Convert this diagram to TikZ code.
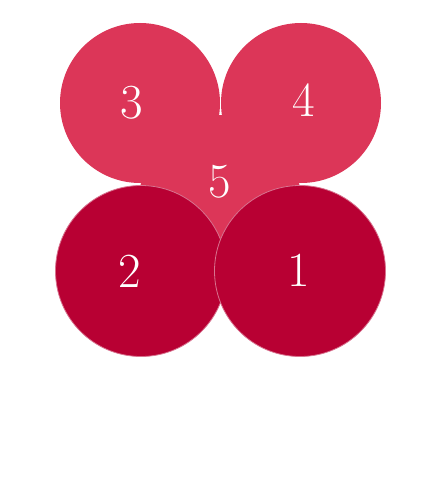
\documentclass[tikz,border=0pt]{standalone}
\definecolor{lightred}{RGB}{220,54,88}
\definecolor{darkred}{RGB}{184,0,51}
\begin{document}
\begin{tikzpicture}[x=1pt,y=-1pt,
  topc/.style={circle,fill=lightred,inner sep=0pt,minimum size=160pt},
  botc/.style={circle,fill=darkred,draw=darkred!55!white,line width=0.8pt,inner sep=0pt,minimum size=171pt},
  midc/.style={circle,fill=lightred,inner sep=0pt,minimum size=160pt},
  num/.style={text=white,font=\fontsize{49}{49}\selectfont,inner sep=0pt}]
\useasboundingbox (0,0) rectangle (437,487);
\node[midc] (m5) at (220,195) {};
\node[topc] (c3) at (140,103) {};
\node[topc] (c4) at (301,103) {};
\node[botc] (c2) at (141,271) {};
\node[botc] (c1) at (300,271) {};
\node[num] (l3) at (132,103) {3};
\node[num] (l4) at (304,100) {4};
\node[num] (l5) at (220,182) {5};
\node[num] (l2) at (130,271) {2};
\node[num] (l1) at (299,270) {1};
\end{tikzpicture}
\end{document}
